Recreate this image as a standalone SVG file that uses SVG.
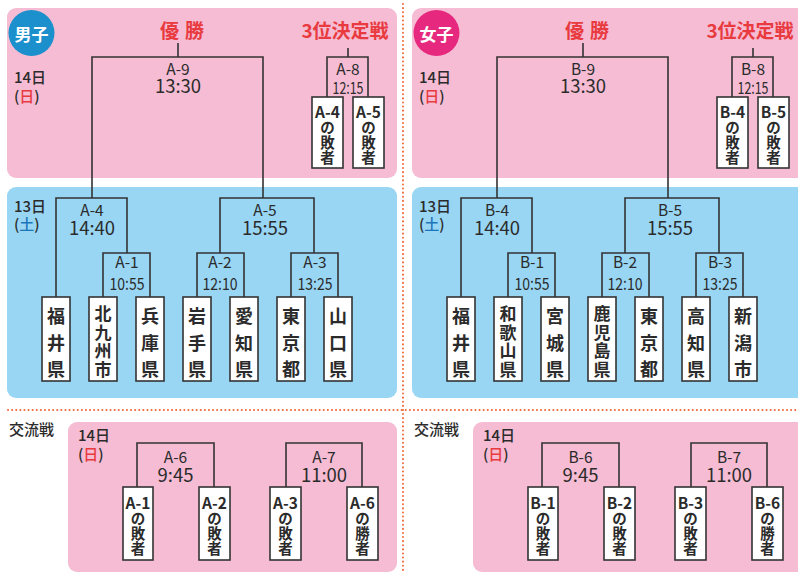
<svg xmlns="http://www.w3.org/2000/svg" width="798" height="573" viewBox="0 0 798 573">
<defs>
<style>
text{font-family:"Noto Sans CJK JP","Noto Sans",sans-serif;fill:#2b2b2b}
.c{text-anchor:middle}
.pink{fill:#f5bcd3}
.blue{fill:#98d6f4}
.ln{fill:none;stroke:#333;stroke-width:1.6}
.bx{fill:#fff;stroke:#333;stroke-width:1.6}
.code{font-size:15.5px}
.time{font-size:18.5px}
.st{font-size:17px}
.pf{font-size:18px;font-weight:bold;text-anchor:middle;dominant-baseline:central}
.pf4{font-size:17px;font-weight:bold;text-anchor:middle;dominant-baseline:central}
.smc{font-size:14.5px;font-weight:bold;text-anchor:middle;dominant-baseline:central}
.hd{font-size:19px;font-weight:bold;fill:#e83a3f;text-anchor:middle;dominant-baseline:central}
.day{font-size:15px;font-weight:500;dominant-baseline:central}
.red{fill:#e83a3f}
.bl{fill:#1b75bb}
.dot{fill:none;stroke:#ef6a3a;stroke-width:2;stroke-dasharray:0.1 4;stroke-linecap:round}
</style>
</defs>
<rect width="798" height="573" fill="#fff"/>
<g id="separators">
<path class="dot" d="M403 4 V573"/>
<path class="dot" d="M8 410 H798"/>
</g>

<!-- MEN -->
<g id="men">
<rect class="pink" x="7" y="8" width="390" height="170" rx="9"/>
<rect class="blue" x="7" y="187" width="390" height="211" rx="9"/>
<rect class="pink" x="68" y="422" width="329" height="150" rx="9"/>
<g id="men-badge"><circle cx="31.5" cy="33" r="23" fill="#1b90cc"/><text x="31.5" y="33" class="c" style="font-size:17px;font-weight:bold;fill:#fff;dominant-baseline:central">男子</text></g>
<text x="182" y="29.5" class="hd" textLength="44">優 勝</text>
<text x="345" y="29.5" class="hd">3位決定戦</text>
<text x="14" y="76.5" class="day">14日</text>
<text x="14" y="95" class="day">(<tspan class="red">日</tspan>)</text>
<text x="14" y="205.5" class="day">13日</text>
<text x="14" y="223" class="day">(<tspan class="bl">土</tspan>)</text>
<text x="9" y="428.5" class="day">交流戦</text>
<text x="78" y="434" class="day">14日</text>
<text x="78" y="453" class="day">(<tspan class="red">日</tspan>)</text>

<g id="men-connectors">
<path class="ln" d="M178 43 V57 M92 198 V57 H263 V198"/>
<path class="ln" d="M348 48 V57 M327 97 V57 H368 V97"/>
<path class="ln" d="M56 297 V198 H127 V253"/>
<path class="ln" d="M103 297 V253 H150 V297"/>
<path class="ln" d="M220 253 V198 H314 V253"/>
<path class="ln" d="M197 297 V253 H244 V297"/>
<path class="ln" d="M291 297 V253 H338 V297"/>
<path class="ln" d="M137 487 V443 H214 V487"/>
<path class="ln" d="M286 487 V443 H362 V487"/>
</g>

<g id="A9"><text x="178" y="75" class="c code">A-9</text><text x="178" y="93" class="c time">13:30</text></g>
<g id="A8"><text x="348" y="75" class="c code">A-8</text><text x="348" y="94" class="c st" textLength="31" lengthAdjust="spacingAndGlyphs">12:15</text></g>
<g id="A4"><text x="92" y="216" class="c code">A-4</text><text x="92" y="235" class="c time">14:40</text></g>
<g id="A5"><text x="265" y="216" class="c code">A-5</text><text x="265" y="235" class="c time">15:55</text></g>
<g id="A1"><text x="127" y="268" class="c code">A-1</text><text x="127" y="290" class="c st" textLength="35" lengthAdjust="spacingAndGlyphs">10:55</text></g>
<g id="A2"><text x="220" y="268" class="c code">A-2</text><text x="220" y="290" class="c st" textLength="35" lengthAdjust="spacingAndGlyphs">12:10</text></g>
<g id="A3"><text x="315" y="268" class="c code">A-3</text><text x="315" y="290" class="c st" textLength="35" lengthAdjust="spacingAndGlyphs">13:25</text></g>
<g id="A6"><text x="175.5" y="463" class="c code">A-6</text><text x="175.5" y="482" class="c time">9:45</text></g>
<g id="A7"><text x="324" y="463" class="c code">A-7</text><text x="324" y="482" class="c time">11:00</text></g>

<g id="m-A4L"><rect class="bx" x="312" y="97" width="31" height="71"/><text class="smc"><tspan x="327.5" y="110.5" style="font-size:15.5px">A-4</tspan><tspan x="327.5" y="126">の</tspan><tspan x="327.5" y="140.5">敗</tspan><tspan x="327.5" y="155.5">者</tspan></text></g>
<g id="m-A5L"><rect class="bx" x="353" y="97" width="31" height="71"/><text class="smc"><tspan x="368.5" y="110.5" style="font-size:15.5px">A-5</tspan><tspan x="368.5" y="126">の</tspan><tspan x="368.5" y="140.5">敗</tspan><tspan x="368.5" y="155.5">者</tspan></text></g>

<g id="m-fukui"><rect class="bx" x="42" y="297" width="28" height="84"/><text class="pf"><tspan x="56" y="315">福</tspan><tspan x="56" y="341.5">井</tspan><tspan x="56" y="368">県</tspan></text></g>
<g id="m-kitakyushu"><rect class="bx" x="89" y="297" width="28" height="84"/><text class="pf4"><tspan x="103" y="312">北</tspan><tspan x="103" y="330.7">九</tspan><tspan x="103" y="349.3">州</tspan><tspan x="103" y="368">市</tspan></text></g>
<g id="m-hyogo"><rect class="bx" x="136" y="297" width="28" height="84"/><text class="pf"><tspan x="150" y="315">兵</tspan><tspan x="150" y="341.5">庫</tspan><tspan x="150" y="368">県</tspan></text></g>
<g id="m-iwate"><rect class="bx" x="183" y="297" width="28" height="84"/><text class="pf"><tspan x="197" y="315">岩</tspan><tspan x="197" y="341.5">手</tspan><tspan x="197" y="368">県</tspan></text></g>
<g id="m-aichi"><rect class="bx" x="230" y="297" width="28" height="84"/><text class="pf"><tspan x="244" y="315">愛</tspan><tspan x="244" y="341.5">知</tspan><tspan x="244" y="368">県</tspan></text></g>
<g id="m-tokyo"><rect class="bx" x="277" y="297" width="28" height="84"/><text class="pf"><tspan x="291" y="315">東</tspan><tspan x="291" y="341.5">京</tspan><tspan x="291" y="368">都</tspan></text></g>
<g id="m-yamaguchi"><rect class="bx" x="324" y="297" width="28" height="84"/><text class="pf"><tspan x="338" y="315">山</tspan><tspan x="338" y="341.5">口</tspan><tspan x="338" y="368">県</tspan></text></g>

<g id="m-A1L"><rect class="bx" x="123" y="487" width="30" height="73"/><text class="smc"><tspan x="138" y="502" style="font-size:15.5px">A-1</tspan><tspan x="138" y="517">の</tspan><tspan x="138" y="532">敗</tspan><tspan x="138" y="547">者</tspan></text></g>
<g id="m-A2L"><rect class="bx" x="199" y="487" width="31" height="73"/><text class="smc"><tspan x="214.5" y="502" style="font-size:15.5px">A-2</tspan><tspan x="214.5" y="517">の</tspan><tspan x="214.5" y="532">敗</tspan><tspan x="214.5" y="547">者</tspan></text></g>
<g id="m-A3L"><rect class="bx" x="270" y="487" width="31" height="73"/><text class="smc"><tspan x="285.5" y="502" style="font-size:15.5px">A-3</tspan><tspan x="285.5" y="517">の</tspan><tspan x="285.5" y="532">敗</tspan><tspan x="285.5" y="547">者</tspan></text></g>
<g id="m-A6W"><rect class="bx" x="347" y="487" width="31" height="73"/><text class="smc"><tspan x="362.5" y="502" style="font-size:15.5px">A-6</tspan><tspan x="362.5" y="517">の</tspan><tspan x="362.5" y="532">勝</tspan><tspan x="362.5" y="547">者</tspan></text></g>
</g>

<!-- WOMEN -->
<g id="women" transform="translate(405,0)">
<rect class="pink" x="7" y="8" width="400" height="170" rx="9"/>
<rect class="blue" x="7" y="187" width="400" height="211" rx="9"/>
<rect class="pink" x="68" y="422" width="340" height="150" rx="9"/>
<g id="women-badge"><circle cx="31.5" cy="33" r="23" fill="#e6297f"/><text x="31.5" y="33" class="c" style="font-size:17px;font-weight:bold;fill:#fff;dominant-baseline:central">女子</text></g>
<text x="182" y="29.5" class="hd" textLength="44">優 勝</text>
<text x="345" y="29.5" class="hd">3位決定戦</text>
<text x="14" y="76.5" class="day">14日</text>
<text x="14" y="95" class="day">(<tspan class="red">日</tspan>)</text>
<text x="14" y="205.5" class="day">13日</text>
<text x="14" y="223" class="day">(<tspan class="bl">土</tspan>)</text>
<text x="9" y="428.5" class="day">交流戦</text>
<text x="78" y="434" class="day">14日</text>
<text x="78" y="453" class="day">(<tspan class="red">日</tspan>)</text>

<g id="women-connectors">
<path class="ln" d="M178 43 V57 M92 198 V57 H263 V198"/>
<path class="ln" d="M348 48 V57 M327 97 V57 H368 V97"/>
<path class="ln" d="M56 297 V198 H127 V253"/>
<path class="ln" d="M103 297 V253 H150 V297"/>
<path class="ln" d="M220 253 V198 H314 V253"/>
<path class="ln" d="M197 297 V253 H244 V297"/>
<path class="ln" d="M291 297 V253 H338 V297"/>
<path class="ln" d="M137 487 V443 H214 V487"/>
<path class="ln" d="M286 487 V443 H362 V487"/>
</g>

<g id="B9"><text x="178" y="75" class="c code">B-9</text><text x="178" y="93" class="c time">13:30</text></g>
<g id="B8"><text x="348" y="75" class="c code">B-8</text><text x="348" y="94" class="c st" textLength="31" lengthAdjust="spacingAndGlyphs">12:15</text></g>
<g id="B4"><text x="92" y="216" class="c code">B-4</text><text x="92" y="235" class="c time">14:40</text></g>
<g id="B5"><text x="265" y="216" class="c code">B-5</text><text x="265" y="235" class="c time">15:55</text></g>
<g id="B1"><text x="127" y="268" class="c code">B-1</text><text x="127" y="290" class="c st" textLength="35" lengthAdjust="spacingAndGlyphs">10:55</text></g>
<g id="B2"><text x="220" y="268" class="c code">B-2</text><text x="220" y="290" class="c st" textLength="35" lengthAdjust="spacingAndGlyphs">12:10</text></g>
<g id="B3"><text x="315" y="268" class="c code">B-3</text><text x="315" y="290" class="c st" textLength="35" lengthAdjust="spacingAndGlyphs">13:25</text></g>
<g id="B6"><text x="175.5" y="463" class="c code">B-6</text><text x="175.5" y="482" class="c time">9:45</text></g>
<g id="B7"><text x="324" y="463" class="c code">B-7</text><text x="324" y="482" class="c time">11:00</text></g>

<g id="w-B4L"><rect class="bx" x="312" y="97" width="31" height="71"/><text class="smc"><tspan x="327.5" y="110.5" style="font-size:15.5px">B-4</tspan><tspan x="327.5" y="126">の</tspan><tspan x="327.5" y="140.5">敗</tspan><tspan x="327.5" y="155.5">者</tspan></text></g>
<g id="w-B5L"><rect class="bx" x="353" y="97" width="31" height="71"/><text class="smc"><tspan x="368.5" y="110.5" style="font-size:15.5px">B-5</tspan><tspan x="368.5" y="126">の</tspan><tspan x="368.5" y="140.5">敗</tspan><tspan x="368.5" y="155.5">者</tspan></text></g>

<g id="w-fukui"><rect class="bx" x="42" y="297" width="28" height="84"/><text class="pf"><tspan x="56" y="315">福</tspan><tspan x="56" y="341.5">井</tspan><tspan x="56" y="368">県</tspan></text></g>
<g id="w-wakayama"><rect class="bx" x="89" y="297" width="28" height="84"/><text class="pf4"><tspan x="103" y="312">和</tspan><tspan x="103" y="330.7">歌</tspan><tspan x="103" y="349.3">山</tspan><tspan x="103" y="368">県</tspan></text></g>
<g id="w-miyagi"><rect class="bx" x="136" y="297" width="28" height="84"/><text class="pf"><tspan x="150" y="315">宮</tspan><tspan x="150" y="341.5">城</tspan><tspan x="150" y="368">県</tspan></text></g>
<g id="w-kagoshima"><rect class="bx" x="183" y="297" width="28" height="84"/><text class="pf4"><tspan x="197" y="312">鹿</tspan><tspan x="197" y="330.7">児</tspan><tspan x="197" y="349.3">島</tspan><tspan x="197" y="368">県</tspan></text></g>
<g id="w-tokyo"><rect class="bx" x="230" y="297" width="28" height="84"/><text class="pf"><tspan x="244" y="315">東</tspan><tspan x="244" y="341.5">京</tspan><tspan x="244" y="368">都</tspan></text></g>
<g id="w-kochi"><rect class="bx" x="277" y="297" width="28" height="84"/><text class="pf"><tspan x="291" y="315">高</tspan><tspan x="291" y="341.5">知</tspan><tspan x="291" y="368">県</tspan></text></g>
<g id="w-niigata"><rect class="bx" x="324" y="297" width="28" height="84"/><text class="pf"><tspan x="338" y="315">新</tspan><tspan x="338" y="341.5">潟</tspan><tspan x="338" y="368">市</tspan></text></g>

<g id="w-B1L"><rect class="bx" x="123" y="487" width="30" height="73"/><text class="smc"><tspan x="138" y="502" style="font-size:15.5px">B-1</tspan><tspan x="138" y="517">の</tspan><tspan x="138" y="532">敗</tspan><tspan x="138" y="547">者</tspan></text></g>
<g id="w-B2L"><rect class="bx" x="199" y="487" width="31" height="73"/><text class="smc"><tspan x="214.5" y="502" style="font-size:15.5px">B-2</tspan><tspan x="214.5" y="517">の</tspan><tspan x="214.5" y="532">敗</tspan><tspan x="214.5" y="547">者</tspan></text></g>
<g id="w-B3L"><rect class="bx" x="270" y="487" width="31" height="73"/><text class="smc"><tspan x="285.5" y="502" style="font-size:15.5px">B-3</tspan><tspan x="285.5" y="517">の</tspan><tspan x="285.5" y="532">敗</tspan><tspan x="285.5" y="547">者</tspan></text></g>
<g id="w-B6W"><rect class="bx" x="347" y="487" width="31" height="73"/><text class="smc"><tspan x="362.5" y="502" style="font-size:15.5px">B-6</tspan><tspan x="362.5" y="517">の</tspan><tspan x="362.5" y="532">勝</tspan><tspan x="362.5" y="547">者</tspan></text></g>
</g>
</svg>
